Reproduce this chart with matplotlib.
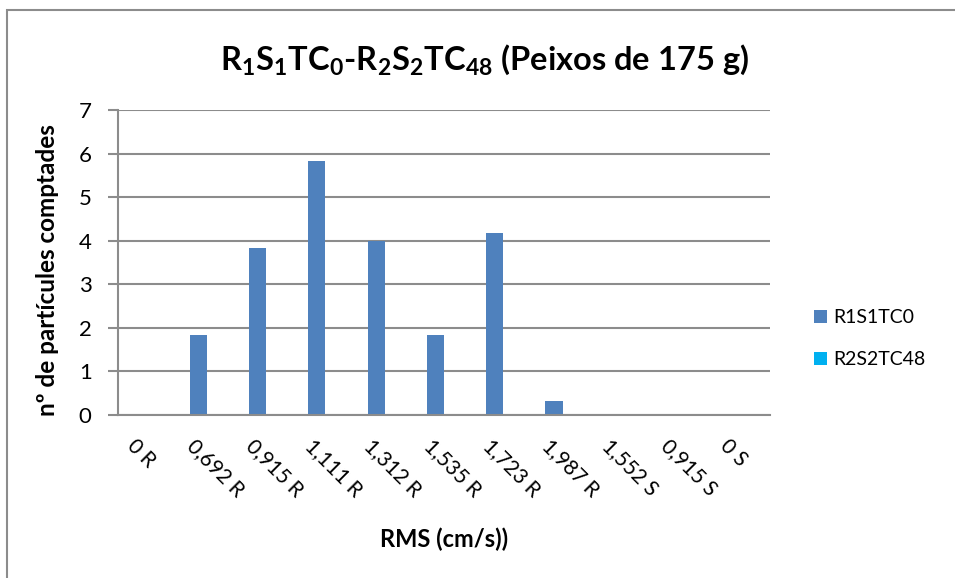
import matplotlib
matplotlib.use("Agg")
import matplotlib.pyplot as plt
import matplotlib.transforms as mtransforms
import numpy as np
from matplotlib.patches import Rectangle

plt.rcParams['font.family'] = ['Lato', 'DejaVu Sans']
plt.rcParams['mathtext.fontset'] = 'custom'
plt.rcParams['mathtext.rm'] = 'Lato'
plt.rcParams['mathtext.bf'] = 'Lato:bold'

categories = ["0 R", "0,692 R", "0,915 R", "1,111 R", "1,312 R", "1,535 R",
              "1,723 R", "1,987 R", "1,552 S", "0,915 S", "0 S"]
r1s1tc0 = [0, 1.83, 3.83, 5.83, 4.0, 1.83, 4.17, 0.33, 0, 0, 0]
r2s2tc48 = [0, 0, 0, 0, 0, 0, 0, 0, 0, 0, 0]

fig = plt.figure(figsize=(9.55, 5.78), dpi=100)
ax = fig.add_axes([118 / 955, 1 - 415 / 578, (770 - 118) / 955, (415 - 110) / 578])

# outer chart frame
fig.patches.append(Rectangle((7 / 955, -0.1), 1.2, 1 - 10 / 578 + 0.1,
                             transform=fig.transFigure, fill=False,
                             edgecolor="#8c8c8c", linewidth=1.5))

x = np.arange(len(categories))
w = 0.29
ax.bar(x - w / 2, r1s1tc0, w, color="#4F81BD", label="R1S1TC0")
ax.bar(x + w / 2, r2s2tc48, w, color="#00B0F0", label="R2S2TC48")

ax.set_xlim(-0.5, len(categories) - 0.5)
ax.set_ylim(0, 7)
ax.set_yticks(range(0, 8))
ax.yaxis.grid(True, color="#8c8c8c", linewidth=1.5)
ax.set_axisbelow(True)
for s in ["top", "right"]:
    ax.spines[s].set_visible(False)
for s in ["left", "bottom"]:
    ax.spines[s].set_color("#8c8c8c")
    ax.spines[s].set_linewidth(1.5)
ax.tick_params(axis="y", length=7, width=1.5, color="#8c8c8c", labelsize=16, pad=12)
ax.tick_params(axis="x", length=0, labelsize=15, pad=20)
ax.set_xticks(x)
ax.set_xticklabels(categories, rotation=315, ha="left", va="center",
                   rotation_mode="anchor")
shift = mtransforms.ScaledTranslation(-0.17, 0, fig.dpi_scale_trans)
for lab in ax.get_xticklabels():
    lab.set_transform(lab.get_transform() + shift)

ax.set_ylabel("nº de partícules comptades", fontsize=17.5, fontweight="bold")
ax.set_xlabel("RMS (cm/s))", fontsize=17, fontweight="bold")
ax.yaxis.set_label_coords(-0.09, 0.475)
ax.xaxis.set_label_coords(0.5, -0.37)

fig.text(485 / 955, 1 - 60 / 578,
         r"R$_\mathbf{1}$S$_\mathbf{1}$TC$_\mathbf{0}$-R$_\mathbf{2}$S$_\mathbf{2}$TC$_\mathbf{48}$ (Peixos de 175 g)",
         fontsize=23.5, fontweight="bold", ha="center", va="center")

ax.legend(loc="center left", bbox_to_anchor=(1.055, 0.25), frameon=False,
          fontsize=14, handlelength=0.7, handleheight=0.7, labelspacing=1.3,
          handletextpad=0.3, borderaxespad=0.0)

fig.savefig("out.png", dpi=100)
